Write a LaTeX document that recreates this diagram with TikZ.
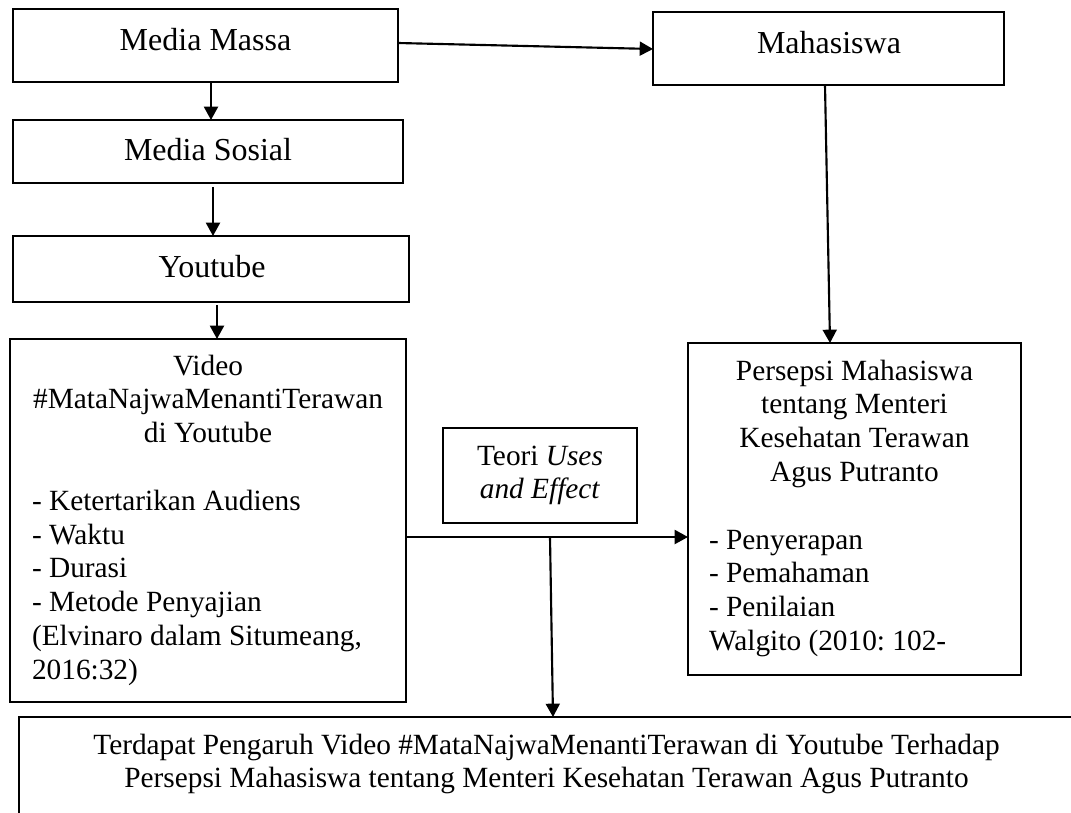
\documentclass[tikz,border=0pt]{standalone}
\usepackage{fontspec}
\setmainfont{Liberation Serif}
\usetikzlibrary{arrows.meta,calc}
\frenchspacing
\newcommand{\mixtext}[3]{\vtop{\hsize=300pt{\centering #2\par}{\raggedright\leftskip=#1\relax #3\par}}}
\newcommand{\ctrtext}[2]{\vtop{\hsize=#1\centering #2\par}}
\begin{document}
\begin{tikzpicture}[x=0.75pt,y=-0.75pt,
  box/.style={draw, line width=1.1pt, rectangle, inner sep=0pt, outer sep=0pt},
  txt/.style={inner sep=0pt, outer sep=0pt, font=\fontsize{22pt}{25.35pt}\selectfont},
  bigtxt/.style={inner sep=0pt, outer sep=0pt, font=\fontsize{24pt}{27.6pt}\selectfont},
  arr/.style={line width=1.6pt, -{Triangle[length=10pt,width=10.5pt]}}]
\clip (0,0) rectangle (1071,813);
\fill[white] (0,0) rectangle (1071,813);
% boxes
\node[box, minimum width=288.75pt, minimum height=54.75pt] (mm) at (205.5,45.5) {};
\node[box, minimum width=292.5pt, minimum height=47.25pt] (ms) at (208,151.5) {};
\node[box, minimum width=297pt, minimum height=49.5pt] (yt) at (211,269) {};
\node[box, minimum width=297pt, minimum height=272.25pt] (video) at (208,520.5) {};
\node[box, minimum width=263.25pt, minimum height=54.75pt] (maha) at (828.5,48.5) {};
\node[box, minimum width=249.75pt, minimum height=249pt] (pers) at (854.5,509) {};
\node[box, minimum width=145.5pt, minimum height=71.25pt] (teori) at (540,475.5) {};
\node[box, minimum width=791.25pt, minimum height=84.75pt] (bot) at (546.5,773.5) {};
% texts
\node[bigtxt, anchor=base] (tmm) at (205.5,51) {Media Massa};
\node[bigtxt, anchor=base] (tms) at (208,161) {Media Sosial};
\node[bigtxt, anchor=base] (tyt) at (212,277) {Youtube};
\node[bigtxt, anchor=base] (tmaha) at (829,54) {Mahasiswa};
\node[txt, anchor=base] (tvideo) at (208,375) {\mixtext{18pt}{Video\\ \#MataNajwaMenantiTerawan\\ di Youtube}{\mbox{}\\- Ketertarikan Audiens\\- Waktu\\- Durasi\\- Metode Penyajian\\(Elvinaro dalam Situmeang,\\2016:32)}};
\node[txt, anchor=base] (tpers) at (854.5,380) {\mixtext{40.9pt}{Persepsi Mahasiswa\\ tentang Menteri\\ Kesehatan Terawan\\ Agus Putranto}{\mbox{}\\- Penyerapan\\- Pemahaman\\- Penilaian\\Walgito (2010: 102-}};
\node[txt, anchor=base] (tteori) at (540,465) {\ctrtext{200pt}{Teori \textit{Uses}\\ \textit{and Effect}}};
\node[txt, anchor=base] (tbot) at (546.5,754) {\ctrtext{780pt}{Terdapat Pengaruh Video \#MataNajwaMenantiTerawan di Youtube Terhadap\\ Persepsi Mahasiswa tentang Menteri Kesehatan Terawan Agus Putranto}};
% connectors
\draw[arr] ($(mm.east)+(0,-2.5)$) -- ($(maha.west)+(0,0.5)$);
\draw[arr] ($(mm.south)+(5.5,0)$) -- ($(ms.north)+(3,0)$);
\draw[arr] ($(ms.south)+(5,4)$) -- ($(yt.north)+(2,0)$);
\draw[arr] ($(yt.south)+(6,3)$) -- ($(video.north)+(9,0)$);
\draw[arr] ($(maha.south)+(-3.5,0)$) -- ($(pers.north)+(-24.5,0)$);
\coordinate (j) at (550,537);
\draw[arr] (video.east |- j) -- (pers.west |- j);
\draw[arr] (j) -- ($(j |- bot.north)+(3,0)$);
\end{tikzpicture}
\end{document}
